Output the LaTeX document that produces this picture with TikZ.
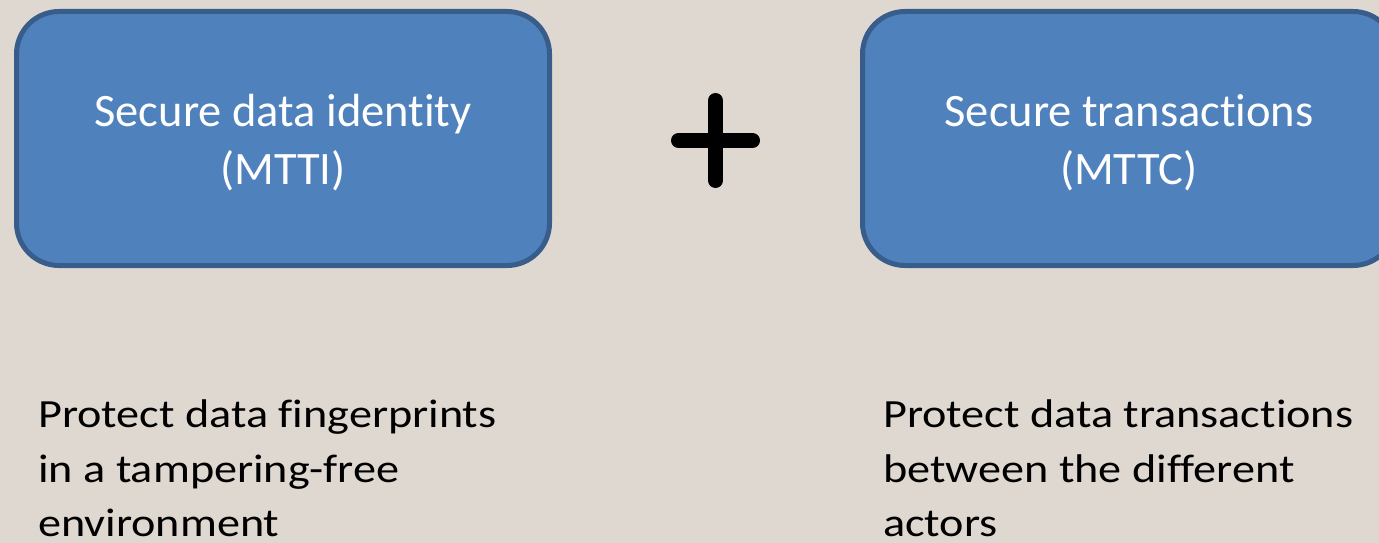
\documentclass[tikz,border=0pt]{standalone}
\usepackage{fontspec}
\setmainfont[Ligatures={NoCommon,NoRare},RawFeature={-liga;-dlig;-clig}]{Carlito}
\newfontfamily\bodyfont[FakeStretch=1.155,Ligatures={NoCommon,NoRare},RawFeature={-liga;-dlig;-clig}]{Carlito}
\definecolor{bgcol}{RGB}{223,216,209}
\definecolor{boxfill}{RGB}{79,129,189}
\definecolor{boxline}{RGB}{56,93,138}
\begin{document}
\begin{tikzpicture}[x=1pt,y=-1pt,
  blockbox/.style={draw=boxline, fill=boxfill, line width=5pt, rounded corners=42.5pt,
    minimum width=533pt, minimum height=254pt, inner sep=0pt},
  boxtext/.style={align=center, inner sep=0pt, text=white,
    font=\fontsize{46.5}{58}\selectfont},
  note/.style={anchor=north west, align=left, inner sep=0pt,
    font=\bodyfont\fontsize{40}{54.5}\selectfont},
  plusbar/.style={line width=15pt, line cap=round, draw=black}]
\useasboundingbox (0,0) rectangle (1379,543);
\fill[bgcol] (0,0) rectangle (1379,543);
\begin{scope}
\clip (0,0) rectangle (1379,543);
\node[blockbox] (mtti) at (283,138.5) {};
\node[blockbox] (mttc) at (1129,138.5) {};
\end{scope}
\node[boxtext, yshift=-4.5pt] (mttitext) at (mtti.center) {Secure data identity\\(MTTI)};
\node[boxtext, yshift=-4.5pt] (mttctext) at (mttc.center) {Secure transactions\\(MTTC)};
\coordinate (plus) at (715.5,140.5);
\draw[plusbar] ([yshift=40pt]plus) -- ([yshift=-40pt]plus);
\draw[plusbar] ([xshift=-37pt]plus) -- ([xshift=37pt]plus);
\node[note] (notel) at (38,400) {Protect data fingerprints\\in a tampering-free\\environment};
\node[note] (noter) at (883,400) {Protect data transactions\\between the different\\actors};
\end{tikzpicture}
\end{document}
